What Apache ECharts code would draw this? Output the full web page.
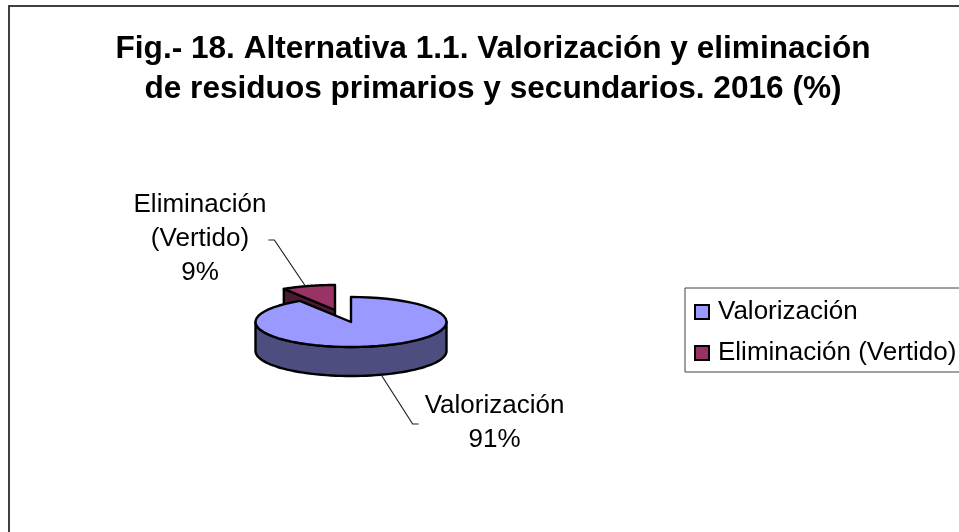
<!DOCTYPE html>
<html>
<head>
<meta charset="utf-8">
<title>Fig. 18</title>
<script src="https://cdn.jsdelivr.net/npm/echarts@6/dist/echarts.min.js"></script>
<style>
html, body { margin: 0; padding: 0; background: #fff; }
#main { width: 959px; height: 532px; }
</style>
</head>
<body>
<div id="main"></div>
<script>
var titleText = 'Fig.- 18. Alternativa 1.1. Valorización y eliminación\nde residuos primarios y secundarios. 2016 (%)';
var categories = ['Valorización', 'Eliminación (Vertido)'];
var shares = [91, 9];

var topColors = ['#9999ff', '#993366'];
var wallColors = ['#4d4d80', '#4d1a33'];
var fontName = '"Liberation Sans", Arial, sans-serif';

// ellipse of the pie, in pixels
var pie = { cx: 351, cy: 322, rx: 95.5, ry: 25, depth: 29 };
// per slice: explode shift, and the leader line relative to the rim point
var shifts = [[0, 0], [-16, -12]];
var anchorShifts = [[3, -1], [-3, 0]];
var elbows = [[32, 50, 6], [-31, -46, -6]];
var labelPos = [[494.5, 389], [200, 188]];

var total = shares.reduce(function (a, b) { return a + b; }, 0);

// angle clockwise from 12 o'clock
function pt(cx, cy, a, dy) {
    return [cx + pie.rx * Math.sin(a), cy - pie.ry * Math.cos(a) + (dy || 0)];
}
function arc(cx, cy, a0, a1, dy) {
    var pts = [], n = 60;
    for (var i = 0; i <= n; i++) {
        pts.push(pt(cx, cy, a0 + (a1 - a0) * i / n, dy));
    }
    return pts;
}

function renderSlice(idx) {
    return function (params, api) {
        var before = 0;
        for (var k = 0; k < idx; k++) { before += shares[k]; }
        var a0 = before / total * Math.PI * 2;
        var a1 = a0 + api.value(0) / total * Math.PI * 2;
        var cx = pie.cx + shifts[idx][0];
        var cy = pie.cy + shifts[idx][1];
        var line = { stroke: '#000', lineWidth: 2.4, lineJoin: 'round' };
        var children = [];

        // cut face towards the viewer (only the exploded slice shows one)
        if (a0 > Math.PI) {
            var p = pt(cx, cy, a0);
            children.push({
                type: 'polygon',
                shape: { points: [p, [cx, cy], [cx, cy + pie.depth], [p[0], p[1] + pie.depth]] },
                style: Object.assign({ fill: wallColors[idx] }, line)
            });
        }
        // outer wall, front half only
        var w0 = Math.max(a0, Math.PI / 2), w1 = Math.min(a1, Math.PI * 1.5);
        if (w1 > w0) {
            children.push({
                type: 'polygon',
                shape: { points: arc(cx, cy, w0, w1).concat(arc(cx, cy, w1, w0, pie.depth)) },
                style: Object.assign({ fill: wallColors[idx] }, line)
            });
        }
        // top face
        children.push({
            type: 'polygon',
            shape: { points: [[cx, cy]].concat(arc(cx, cy, a0, a1)) },
            style: Object.assign({ fill: topColors[idx] }, line)
        });

        // leader line starts on the rim at the middle of the slice
        var mid = (a0 + a1) / 2;
        var rim = pt(cx, cy, mid, Math.cos(mid) < 0 ? pie.depth : 0);
        var anchor = [rim[0] + anchorShifts[idx][0], rim[1] + anchorShifts[idx][1]];
        var e = elbows[idx];
        var knee = [anchor[0] + e[0], anchor[1] + e[1]];
        children.push({
            type: 'polyline',
            shape: { points: [anchor, knee, [knee[0] + e[2], knee[1]]] },
            style: { stroke: '#222', lineWidth: 1.2, fill: null }
        });
        children.push({
            type: 'text',
            style: {
                x: labelPos[idx][0],
                y: labelPos[idx][1],
                text: categories[idx].replace(' ', '\n') + '\n' + api.value(0) + '%',
                align: 'center',
                verticalAlign: 'top',
                font: '26px ' + fontName,
                lineHeight: 34,
                fill: '#000'
            }
        });
        return { type: 'group', children: children };
    };
}

var myChart = echarts.init(document.getElementById('main'));
var option = {
    animation: false,
    backgroundColor: '#fff',
    title: {
        text: titleText,
        left: 488,
        top: 24,
        textAlign: 'center',
        textStyle: { fontFamily: fontName, fontSize: 31.6, fontWeight: 'bold', color: '#000', lineHeight: 40.5 }
    },
    legend: {
        orient: 'vertical',
        left: 685,
        top: 288,
        padding: [11, 8, 6, 9],
        itemWidth: 14,
        itemHeight: 14,
        itemGap: 15,
        borderColor: '#404040',
        borderWidth: 1,
        selectedMode: false,
        textStyle: { fontFamily: fontName, fontSize: 26, color: '#000', padding: [0, 0, 0, 4] },
        data: categories.map(function (name) {
            return { name: name, icon: 'rect', itemStyle: { borderColor: '#000', borderWidth: 2 } };
        })
    },
    graphic: [{
        type: 'rect',
        z: -1,
        shape: { x: 9, y: 6, width: 1000, height: 600 },
        style: { fill: null, stroke: '#404040', lineWidth: 2 }
    }],
    series: categories.map(function (name, i) {
        return {
            type: 'custom',
            name: name,
            coordinateSystem: 'none',
            z: 10 - i,
            silent: true,
            itemStyle: { color: topColors[i] },
            data: [shares[i]],
            renderItem: renderSlice(i)
        };
    })
};
myChart.setOption(option);
</script>
</body>
</html>
